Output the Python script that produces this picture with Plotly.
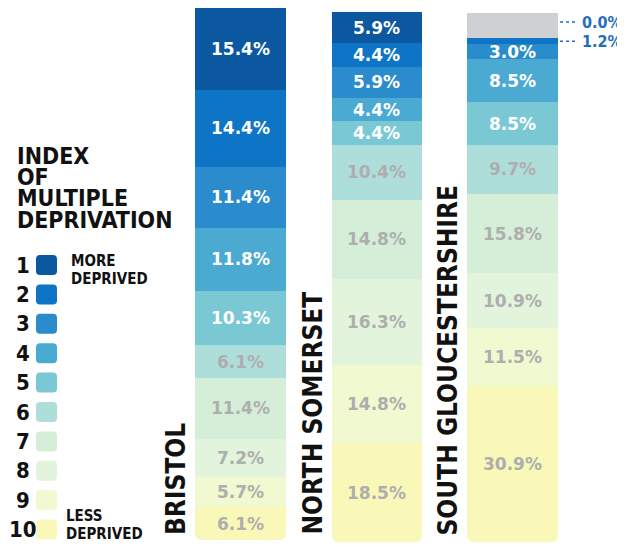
import plotly.graph_objects as go

# the page body has an 8px margin, so the figure starts 8px in from the window corner
OFF = 8
WIN_W, WIN_H = 625, 545
W, H = WIN_W - OFF, WIN_H - OFF

# ---------------- data ----------------
regions = ["BRISTOL", "NORTH SOMERSET", "SOUTH GLOUCESTERSHIRE"]
deciles = [1, 2, 3, 4, 5, 6, 7, 8, 9, 10]
bristol = [15.4, 14.4, 11.4, 11.8, 10.3, 6.1, 11.4, 7.2, 5.7, 6.1]
north_somerset = [5.9, 4.4, 5.9, 4.4, 4.4, 10.4, 14.8, 16.3, 14.8, 18.5]
south_glos = [0.0, 1.2, 3.0, 8.5, 8.5, 9.7, 15.8, 10.9, 11.5, 30.9]
south_glos_grey_cap = 5.0   # unlabelled grey block on top of the South Glos bar
legend_title = ["INDEX", "OF", "MULTIPLE", "DEPRIVATION"]
more_label = ["MORE", "DEPRIVED"]
less_label = ["LESS", "DEPRIVED"]

series = [bristol, north_somerset, south_glos]

# ---------------- styles ----------------
decile_colors = ["#0b57a0", "#0d74c6", "#2a8ccc", "#4aaad2", "#7bc8d5",
                 "#aeded9", "#d4eed8", "#e3f4dc", "#f0f9cf", "#faf8b8"]
grey_cap_color = "#cdd1d1"
label_white = "#ffffff"
label_grey = "#aeaeae"
ext_blue = "#1f6fba"
HEAD_FONT = "DejaVu Sans Condensed, DejaVu Sans"
VAL_FONT = "DejaVu Sans"

# window-pixel boxes of each bar: x0, x1, top, bottom
bar_boxes = [(195, 286, 8, 540), (332, 422, 12, 542), (467, 558, 13, 542)]
region_label_x = [176, 312, 447]
region_label_bottom = 537


def px(x):
    return (x - OFF) / W


def py(y):
    return 1 - (y - OFF) / H


fig = go.Figure()
layout_axes = {}
annotations = []
shapes = []

for r, (name, vals) in enumerate(zip(regions, series)):
    sfx = "" if r == 0 else str(r + 1)
    xa, ya = "x" + sfx, "y" + sfx
    stack_vals = list(vals)
    stack_cols = list(decile_colors)
    names = [f"{d}" for d in deciles]
    if r == 2:
        stack_vals = [south_glos_grey_cap] + stack_vals
        stack_cols = [grey_cap_color] + stack_cols
        names = ["grey"] + names
    total = sum(stack_vals)
    for v, c, n in zip(stack_vals, stack_cols, names):
        fig.add_trace(go.Bar(x=[name], y=[v], marker=dict(color=c, line=dict(width=0)),
                             xaxis=xa, yaxis=ya, name=n, showlegend=False,
                             hoverinfo="skip"))
    x0, x1, top, bot = bar_boxes[r]
    layout_axes["xaxis" + sfx] = dict(domain=[px(x0), px(x1)], visible=False,
                                      type="category", range=[-0.5, 0.5],
                                      anchor=ya, fixedrange=True)
    layout_axes["yaxis" + sfx] = dict(domain=[py(bot), py(top)], visible=False,
                                      range=[total, 0], anchor=xa, fixedrange=True)
    # value labels
    cum = south_glos_grey_cap if r == 2 else 0.0
    for i, v in enumerate(vals):
        mid = cum + v / 2
        cum += v
        if v < 2.0:
            continue
        annotations.append(dict(
            x=name, y=mid, xref=xa, yref=ya, text=f"{v:.1f}%", showarrow=False,
            font=dict(family=VAL_FONT, size=17, weight="bold",
                      color=label_white if i < 5 else label_grey),
            xanchor="center", yanchor="middle"))
    # region name
    annotations.append(dict(
        x=px(region_label_x[r]), y=py(region_label_bottom), xref="paper", yref="paper",
        text=name, textangle=-90, showarrow=False, xanchor="center", yanchor="bottom",
        font=dict(family=HEAD_FONT, size=26, weight="bold", color="#111111")))
    if r == 2:
        # external labels for the tiny bands
        ext = [(vals[0], south_glos_grey_cap / 2 - 0.7),
               (vals[1], south_glos_grey_cap + vals[0] + vals[1] / 2)]
        for v, ymid in ext:
            shapes.append(dict(type="line", xref="paper", yref=ya,
                               x0=px(x1 + 2), x1=px(x1 + 17), y0=ymid, y1=ymid,
                               line=dict(color=ext_blue, width=1.5, dash="dot")))
            annotations.append(dict(
                x=px(x1 + 22), y=ymid, xref="paper", yref=ya, text=f"{v:.1f}%",
                showarrow=False, xanchor="left", yanchor="middle",
                font=dict(family=HEAD_FONT, size=16, weight="bold", color=ext_blue)))

# ---------------- legend ----------------
title_baselines = [167, 188, 209, 231]
for t, yb in zip(legend_title, title_baselines):
    annotations.append(dict(x=px(15), y=py(yb + 4), xref="paper", yref="paper", text=t,
                            showarrow=False, xanchor="left", yanchor="bottom",
                            font=dict(family=HEAD_FONT, size=23, weight="bold",
                                      color="#111111")))

sq_x0, sq_x1 = 36, 57
first_c, step = 265, 29.4
rad = 4
for i, d in enumerate(deciles):
    cy = first_c + i * step
    y0, y1 = cy - 10, cy + 10
    rx, ry = rad / W, rad / H
    X0, X1, Y0, Y1 = px(sq_x0), px(sq_x1), py(y1), py(y0)
    path = (f"M {X0 + rx} {Y0} L {X1 - rx} {Y0} Q {X1} {Y0} {X1} {Y0 + ry} "
            f"L {X1} {Y1 - ry} Q {X1} {Y1} {X1 - rx} {Y1} L {X0 + rx} {Y1} "
            f"Q {X0} {Y1} {X0} {Y1 - ry} L {X0} {Y0 + ry} Q {X0} {Y0} {X0 + rx} {Y0} Z")
    shapes.append(dict(type="path", path=path, xref="paper", yref="paper",
                       fillcolor=decile_colors[i], line=dict(width=0), layer="above"))
    annotations.append(dict(x=px(23), y=py(cy), xref="paper", yref="paper", text=str(d),
                            showarrow=False, xanchor="center", yanchor="middle",
                            font=dict(family=HEAD_FONT, size=22, weight="bold",
                                      color="#111111")))

for t, yc in zip(more_label, [261, 279]):
    annotations.append(dict(x=px(69), y=py(yc), xref="paper", yref="paper", text=t,
                            showarrow=False, xanchor="left", yanchor="middle",
                            font=dict(family=HEAD_FONT, size=15, weight="bold",
                                      color="#111111")))
for t, yc in zip(less_label, [516, 534]):
    annotations.append(dict(x=px(64), y=py(yc), xref="paper", yref="paper", text=t,
                            showarrow=False, xanchor="left", yanchor="middle",
                            font=dict(family=HEAD_FONT, size=15, weight="bold",
                                      color="#111111")))

fig.update_layout(
    width=W, height=H, margin=dict(l=0, r=0, t=0, b=0),
    paper_bgcolor="white", plot_bgcolor="white",
    barmode="stack", bargap=0, barcornerradius=6,
    showlegend=False, annotations=annotations, shapes=shapes,
    **layout_axes,
)

fig.write_html("out.html")
